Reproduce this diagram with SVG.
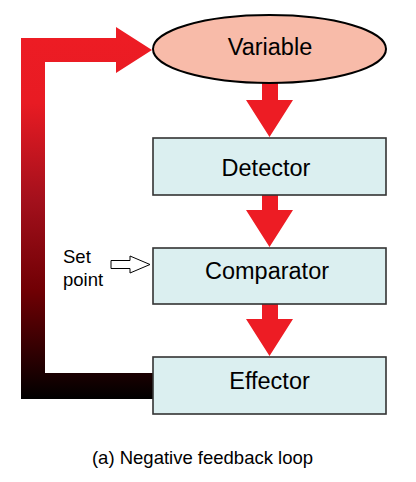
<svg xmlns="http://www.w3.org/2000/svg" width="416" height="482" viewBox="0 0 416 482">
<style>
.box{fill:#dbeff0;stroke:#333;stroke-width:1.6}
.lbl{font-family:"Liberation Sans",Arial,sans-serif;font-size:23.5px;fill:#000;text-anchor:middle}
.sm{font-family:"Liberation Sans",Arial,sans-serif;font-size:18.5px;fill:#000}
.red{fill:#ed1c24}
</style>
<defs>
<linearGradient id="fb" gradientUnits="userSpaceOnUse" x1="0" y1="38" x2="0" y2="399">
<stop offset="0" stop-color="#ed1c24"/>
<stop offset="0.18" stop-color="#e81b23"/>
<stop offset="0.45" stop-color="#a3101c"/>
<stop offset="0.7" stop-color="#700004"/>
<stop offset="1" stop-color="#000"/>
</linearGradient>
</defs>
<rect width="416" height="482" fill="#fff"/>
<g id="connectors">
<path d="M21,399 L21,38 L116,38 L116,27 L152,50 L116,73 L116,62 L45,62 L45,373 L153,373 L153,399 Z" fill="url(#fb)"/>
<path class="red" d="M262,83 L278,83 L278,100 L293,100 L269.5,137 L246,100 L262,100 Z"/>
<path class="red" d="M262,195 L278,195 L278,210 L293,210 L269.5,247 L246,210 L262,210 Z"/>
<path class="red" d="M262,304 L278,304 L278,319 L293,319 L269.5,356 L246,319 L262,319 Z"/>
<path d="M111,260.5 L130,260.5 L130,256 L150,264.5 L130,273 L130,268.5 L111,268.5 Z" fill="#fff" stroke="#000" stroke-width="1"/>
</g>
<g id="variable">
<ellipse cx="269.5" cy="49" rx="116.5" ry="34" fill="#f8bba9" stroke="#000" stroke-width="2"/>
<text class="lbl" x="270" y="55">Variable</text>
</g>
<g id="detector">
<rect class="box" x="153" y="138" width="233" height="57"/>
<text class="lbl" x="266" y="176">Detector</text>
</g>
<g id="comparator">
<rect class="box" x="153" y="248" width="233" height="56"/>
<text class="lbl" x="267" y="279">Comparator</text>
</g>
<g id="effector">
<rect class="box" x="153" y="357" width="233" height="57"/>
<text class="lbl" x="269.5" y="389">Effector</text>
</g>
<g id="setpoint">
<text class="sm" x="63" y="263">Set</text>
<text class="sm" x="63" y="286">point</text>
</g>
<text class="sm" x="202.5" y="464" text-anchor="middle">(a) Negative feedback loop</text>
</svg>
